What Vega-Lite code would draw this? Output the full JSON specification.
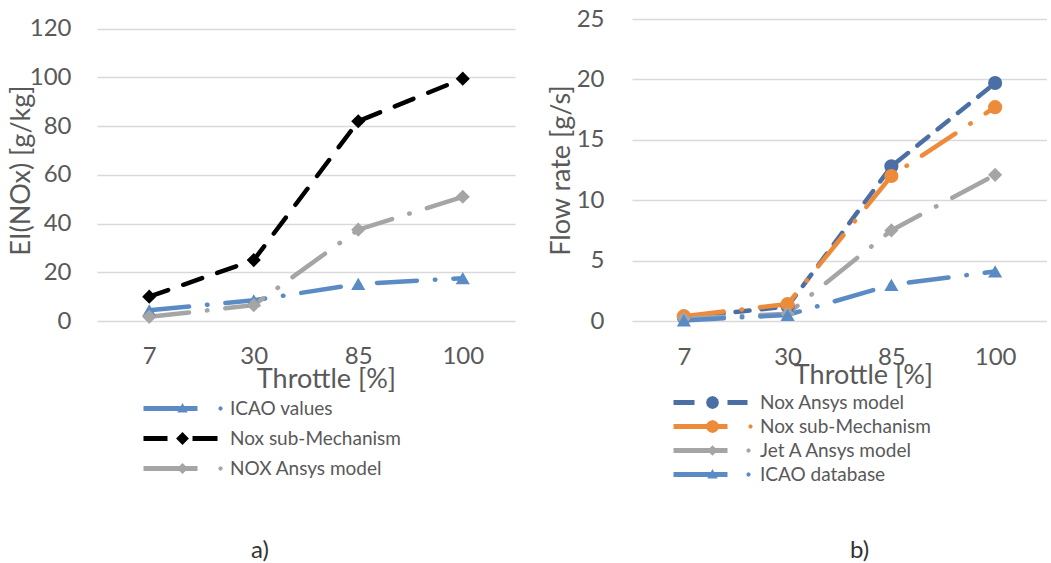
{
  "$schema": "https://vega.github.io/schema/vega-lite/v6.json",
  "background": "white",
  "padding": {"top": 7, "left": 6, "right": 0, "bottom": 0},
  "bounds": "flush",
  "spacing": 117,
  "config": {
    "view": {"stroke": null},
    "font": "Lato",
    "axis": {
      "domain": false,
      "ticks": false,
      "tickSize": 0,
      "labelFont": "Lato",
      "labelFontSize": 24,
      "labelColor": "#595959",
      "titleFont": "Lato",
      "titleFontSize": 27,
      "titleFontWeight": "normal",
      "titleColor": "#595959",
      "gridColor": "#d9d9d9",
      "gridWidth": 1.5
    },
    "legend": {
      "labelFont": "Lato",
      "labelFontSize": 19,
      "labelColor": "#595959",
      "labelLimit": 400,
      "symbolSize": 64,
      "symbolStrokeWidth": 0,
      "labelOffset": 38,
      "padding": 0
    },
    "title": {"font": "Lato", "fontSize": 24, "fontWeight": "normal", "color": "#333333"}
  },
  "resolve": {
    "scale": {"color": "independent", "strokeDash": "independent", "y": "independent"},
    "legend": {"color": "independent"}
  },
  "hconcat": [
    {
      "width": 418,
      "height": 302,
      "title": {"text": "a)", "orient": "bottom", "offset": 60, "dx": -46},
      "data": {
        "values": [
          {"series": "ICAO values", "throttle": 7, "value": 4.4},
          {"series": "ICAO values", "throttle": 30, "value": 8.5},
          {"series": "ICAO values", "throttle": 85, "value": 15.2},
          {"series": "ICAO values", "throttle": 100, "value": 17.6},
          {"series": "Nox sub-Mechanism", "throttle": 7, "value": 10},
          {"series": "Nox sub-Mechanism", "throttle": 30, "value": 25},
          {"series": "Nox sub-Mechanism", "throttle": 85, "value": 82},
          {"series": "Nox sub-Mechanism", "throttle": 100, "value": 99.5},
          {"series": "NOX Ansys model", "throttle": 7, "value": 1.7},
          {"series": "NOX Ansys model", "throttle": 30, "value": 6.5},
          {"series": "NOX Ansys model", "throttle": 85, "value": 37.5},
          {"series": "NOX Ansys model", "throttle": 100, "value": 51}
        ]
      },
      "encoding": {
        "x": {
          "field": "throttle", "type": "ordinal",
          "axis": {"title": "Throttle [%]", "grid": false, "labelAngle": 0, "labelBaseline": "alphabetic", "labelPadding": 42, "titleX": 229, "titleY": 66, "titleBaseline": "alphabetic", "titleAnchor": "middle", "titleAlign": "center"}
        },
        "y": {
          "field": "value", "type": "quantitative",
          "scale": {"domain": [0, 124], "nice": false, "zero": true},
          "axis": {"title": "EI(NOx) [g/kg]", "values": [0, 20, 40, 60, 80, 100, 120], "labelPadding": 26, "titleX": -62}
        },
        "color": {
          "field": "series", "type": "nominal",
          "sort": ["ICAO values", "Nox sub-Mechanism", "NOX Ansys model"],
          "scale": {"domain": ["ICAO values", "Nox sub-Mechanism", "NOX Ansys model"], "range": ["#5b8bc4", "#000000", "#a5a5a5"]},
          "legend": {
            "title": null,
            "orient": "none",
            "legendX": 76,
            "legendY": 380,
            "rowPadding": 10,
            "symbolSize": 64,
            "symbolStrokeWidth": 0,
            "encode": {
              "symbols": {
                "update": {
                  "shape": {"signal": "datum.value === 'ICAO values' ? 'M-9.75,-0.6H3.75V0.6H-9.75ZM0,-1.4L1.3,1L-1.3,1ZM10.05,0L9.89,0.39L9.5,0.55L9.11,0.39L8.95,0L9.11,-0.39L9.5,-0.55L9.89,-0.39Z' : datum.value === 'Nox sub-Mechanism' ? 'M-9.75,-0.6H-3.75V0.6H-9.75ZM2.5,-0.6H8.75V0.6H2.5ZM0,-1.6L1.6,0L0,1.6L-1.6,0Z' : 'M-9.75,-0.6H3.75V0.6H-9.75ZM0,-1.4L1.4,0L0,1.4L-1.4,0ZM10.05,0L9.89,0.39L9.5,0.55L9.11,0.39L8.95,0L9.11,-0.39L9.5,-0.55L9.89,-0.39Z'"},
                  "fillOpacity": {"value": 1},
                  "opacity": {"value": 1},
                  "strokeWidth": {"value": 0},
                  "size": {"value": 64}
                }
              }
            }
          }
        }
      },
      "layer": [
        {
          "mark": {"type": "line", "strokeWidth": 4.5, "strokeCap": "round"},
          "encoding": {
            "strokeDash": {
              "field": "series", "type": "nominal",
              "scale": {"domain": ["ICAO values", "Nox sub-Mechanism", "NOX Ansys model"], "range": [[40, 18, 0.5, 18], [20, 16], [40, 18, 0.5, 18]]},
              "legend": null
            }
          }
        },
        {
          "transform": [{"filter": "datum.series === 'ICAO values'"}],
          "mark": {"type": "point", "filled": true, "opacity": 1, "size": 200, "shape": "triangle-up"}
        },
        {
          "transform": [{"filter": "datum.series !== 'ICAO values'"}],
          "mark": {"type": "point", "filled": true, "opacity": 1, "size": 200, "shape": "diamond"}
        }
      ]
    },
    {
      "width": 415,
      "height": 302,
      "title": {"text": "b)", "orient": "bottom", "offset": 54, "dx": 20},
      "data": {
        "values": [
          {"series": "Nox Ansys model", "throttle": 7, "value": 0.3},
          {"series": "Nox Ansys model", "throttle": 30, "value": 1.2},
          {"series": "Nox Ansys model", "throttle": 85, "value": 12.8},
          {"series": "Nox Ansys model", "throttle": 100, "value": 19.7},
          {"series": "Nox sub-Mechanism", "throttle": 7, "value": 0.4},
          {"series": "Nox sub-Mechanism", "throttle": 30, "value": 1.4},
          {"series": "Nox sub-Mechanism", "throttle": 85, "value": 12.0},
          {"series": "Nox sub-Mechanism", "throttle": 100, "value": 17.7},
          {"series": "Jet A Ansys model", "throttle": 7, "value": 0.2},
          {"series": "Jet A Ansys model", "throttle": 30, "value": 0.6},
          {"series": "Jet A Ansys model", "throttle": 85, "value": 7.5},
          {"series": "Jet A Ansys model", "throttle": 100, "value": 12.1},
          {"series": "ICAO database", "throttle": 7, "value": 0.05},
          {"series": "ICAO database", "throttle": 30, "value": 0.5},
          {"series": "ICAO database", "throttle": 85, "value": 3.0},
          {"series": "ICAO database", "throttle": 100, "value": 4.1}
        ]
      },
      "encoding": {
        "x": {
          "field": "throttle", "type": "ordinal",
          "axis": {"title": "Throttle [%]", "grid": false, "labelAngle": 0, "labelBaseline": "alphabetic", "labelPadding": 43, "titleX": 231, "titleY": 62, "titleBaseline": "alphabetic", "titleAnchor": "middle", "titleAlign": "center"}
        },
        "y": {
          "field": "value", "type": "quantitative",
          "scale": {"domain": [0, 25], "nice": false, "zero": true},
          "axis": {"title": "Flow rate [g/s]", "values": [0, 5, 10, 15, 20, 25], "labelPadding": 28, "titleX": -57}
        },
        "color": {
          "field": "series", "type": "nominal",
          "sort": ["Nox Ansys model", "Nox sub-Mechanism", "Jet A Ansys model", "ICAO database"],
          "scale": {"domain": ["Nox Ansys model", "Nox sub-Mechanism", "Jet A Ansys model", "ICAO database"], "range": ["#4b6fa5", "#ee8b3a", "#a5a5a5", "#5b8bc4"]},
          "legend": {
            "title": null,
            "orient": "none",
            "legendX": 71,
            "legendY": 374,
            "rowPadding": 4,
            "symbolSize": 64,
            "symbolStrokeWidth": 0,
            "encode": {
              "symbols": {
                "update": {
                  "shape": {"signal": "datum.value === 'Nox Ansys model' ? 'M-9.75,-0.6H-4.5V0.6H-9.75ZM3.75,-0.6H8.75V0.6H3.75ZM1.6,0L1.386,0.8L0.8,1.386L0,1.6L-0.8,1.386L-1.386,0.8L-1.6,0L-1.386,-0.8L-0.8,-1.386L0,-1.6L0.8,-1.386L1.386,-0.8Z' : datum.value === 'Nox sub-Mechanism' ? 'M-9.75,-0.6H3.75V0.6H-9.75ZM1.6,0L1.386,0.8L0.8,1.386L0,1.6L-0.8,1.386L-1.386,0.8L-1.6,0L-1.386,-0.8L-0.8,-1.386L0,-1.6L0.8,-1.386L1.386,-0.8ZM10.05,0L9.89,0.39L9.5,0.55L9.11,0.39L8.95,0L9.11,-0.39L9.5,-0.55L9.89,-0.39Z' : datum.value === 'Jet A Ansys model' ? 'M-9.75,-0.6H3.75V0.6H-9.75ZM0,-1.3L1.3,0L0,1.3L-1.3,0ZM9.55,0L9.39,0.39L9,0.55L8.61,0.39L8.45,0L8.61,-0.39L9,-0.55L9.39,-0.39Z' : 'M-9.75,-0.6H3.75V0.6H-9.75ZM0,-1.4L1.3,1L-1.3,1ZM9.55,0L9.39,0.39L9,0.55L8.61,0.39L8.45,0L8.61,-0.39L9,-0.55L9.39,-0.39Z'"},
                  "fillOpacity": {"value": 1},
                  "opacity": {"value": 1},
                  "strokeWidth": {"value": 0},
                  "size": {"value": 64}
                }
              }
            }
          }
        }
      },
      "layer": [
        {
          "mark": {"type": "line", "strokeWidth": 4.5, "strokeCap": "round"},
          "encoding": {
            "strokeDash": {
              "field": "series", "type": "nominal",
              "scale": {"domain": ["Nox Ansys model", "Nox sub-Mechanism", "Jet A Ansys model", "ICAO database"], "range": [[14, 12], [40, 18, 0.5, 18], [40, 18, 0.5, 18], [40, 18, 0.5, 18]]},
              "legend": null
            }
          }
        },
        {
          "transform": [{"filter": "datum.series === 'Nox Ansys model' || datum.series === 'Nox sub-Mechanism'"}],
          "mark": {"type": "point", "filled": true, "opacity": 1, "size": 200, "shape": "circle"}
        },
        {
          "transform": [{"filter": "datum.series === 'Jet A Ansys model'"}],
          "mark": {"type": "point", "filled": true, "opacity": 1, "size": 200, "shape": "diamond"}
        },
        {
          "transform": [{"filter": "datum.series === 'ICAO database'"}],
          "mark": {"type": "point", "filled": true, "opacity": 1, "size": 200, "shape": "triangle-up"}
        }
      ]
    }
  ]
}
